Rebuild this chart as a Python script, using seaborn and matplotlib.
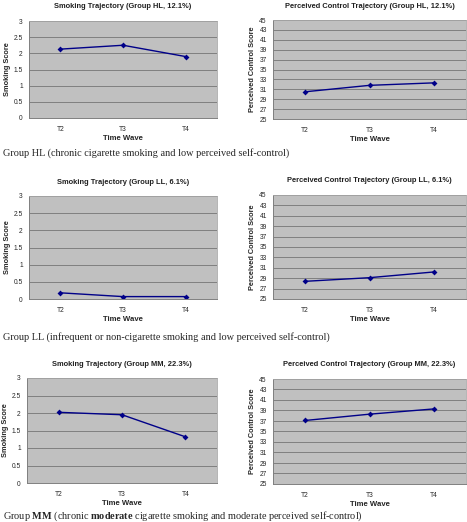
import matplotlib
matplotlib.use("Agg")
import matplotlib.pyplot as plt
import seaborn as sns
import pandas as pd

waves = ["T2", "T3", "T4"]

hl_smoking = [2.13, 2.25, 1.90]
hl_control = [30.5, 31.8, 32.3]
ll_smoking = [0.18, 0.07, 0.07]
ll_control = [28.4, 29.1, 30.2]
mm_smoking = [2.02, 1.95, 1.32]
mm_control = [37.1, 38.3, 39.3]

titles = [
    ("Smoking Trajectory (Group HL, 12.1%)", "Perceived Control Trajectory (Group HL, 12.1%)"),
    ("Smoking Trajectory (Group LL, 6.1%)", "Perceived Control Trajectory (Group LL, 6.1%)"),
    ("Smoking Trajectory (Group MM, 22.3%)", "Perceived Control Trajectory (Group MM, 22.3%)"),
]
smoking_ticks = [0, 0.5, 1, 1.5, 2, 2.5, 3]
smoking_ticklabels = ["0", "0.5", "1", "1.5", "2", "2.5", "3"]
control_ticks = [25, 27, 29, 31, 33, 35, 37, 39, 41, 43, 45]

sns.set_style("white")
plt.rcParams["font.family"] = ["Liberation Sans", "DejaVu Sans"]
plt.rcParams["mathtext.fontset"] = "custom"
plt.rcParams["mathtext.rm"] = "Liberation Serif"
plt.rcParams["mathtext.bf"] = "Liberation Serif:bold"

W, H = 467, 522
fig = plt.figure(figsize=(W / 100, H / 100), dpi=100)

def add_ax(x0, x1, ytop, ybot):
    return fig.add_axes([x0 / W, 1 - ybot / H, (x1 - x0) / W, (ybot - ytop) / H])

layout = [
    ((29, 217, 21, 118), (273, 466, 20, 119)),
    ((29, 217, 196, 299), (273, 466, 195, 299)),
    ((27, 217, 378, 483), (273, 466, 379, 484)),
]
data = [(hl_smoking, hl_control), (ll_smoking, ll_control), (mm_smoking, mm_control)]

def style_ax(ax, ticks, ticklabels, ylim, ylabel, title):
    ax.set_facecolor("#C0C0C0")
    ax.set_xlim(-0.5, 2.5)
    ax.set_ylim(*ylim)
    ax.set_yticks(ticks)
    ax.set_yticklabels(ticklabels)
    ax.set_xticks([0, 1, 2])
    ax.set_xticklabels(waves)
    ax.set_xticks([-0.5, 0.5, 1.5, 2.5], minor=True)
    ax.tick_params(axis="x", which="major", length=0, labelsize=4.8, pad=6)
    ax.tick_params(axis="x", which="minor", length=2.5, width=0.6, color="#808080")
    ax.tick_params(axis="y", which="major", length=2.5, width=0.6, color="#808080",
                   labelsize=4.8, pad=2)
    ax.grid(axis="y", color="#808080", linewidth=0.7)
    ax.grid(axis="x", visible=False)
    ax.set_axisbelow(True)
    for s in ["top", "right"]:
        ax.spines[s].set_visible(True)
        ax.spines[s].set_color("#A8A8A8")
        ax.spines[s].set_linewidth(0.6)
    for s in ["left", "bottom"]:
        ax.spines[s].set_color("#808080")
        ax.spines[s].set_linewidth(0.7)
    ax.set_xlabel("Time Wave", fontsize=5.6, fontweight="bold", labelpad=1)
    ax.set_ylabel(ylabel, fontsize=5.3, fontweight="bold", labelpad=2)
    ax.set_title(title, fontsize=5.4, fontweight="semibold", pad=9, color="#202020")

for (lpos, rpos), (smk, ctl), (tl, tr) in zip(layout, data, titles):
    axl = add_ax(*lpos)
    df = pd.DataFrame({"x": [0, 1, 2], "y": smk})
    sns.lineplot(data=df, x="x", y="y", ax=axl, color="#000088", marker="D",
                 markersize=3, markeredgewidth=0, linewidth=1.0)
    style_ax(axl, smoking_ticks, smoking_ticklabels, (0, 3), "Smoking Score", tl)

    axr = add_ax(*rpos)
    df = pd.DataFrame({"x": [0, 1, 2], "y": ctl})
    sns.lineplot(data=df, x="x", y="y", ax=axr, color="#000088", marker="D",
                 markersize=3, markeredgewidth=0, linewidth=1.0)
    style_ax(axr, control_ticks, [str(t) for t in control_ticks], (25, 45),
             "Perceived Control Score", tr)

serif = ["Liberation Serif", "DejaVu Serif"]
fig.text(3 / W, 1 - 153 / H,
         "Group HL (chronic cigarette smoking and low perceived self-control)",
         fontsize=7.4, family=serif, va="center", ha="left")
fig.text(3 / W, 1 - 337 / H,
         "Group LL (infrequent or non-cigarette smoking and low perceived self-control)",
         fontsize=7.4, family=serif, va="center", ha="left")
fig.text(3 / W, 1 - 516 / H,
         r"Group $\mathbf{MM}$ (chronic $\mathbf{moderate}$ cigarette smoking and moderate perceived self-control)",
         fontsize=7.4, family=serif, va="center", ha="left")

fig.savefig("out.png", dpi=100, facecolor="white")
